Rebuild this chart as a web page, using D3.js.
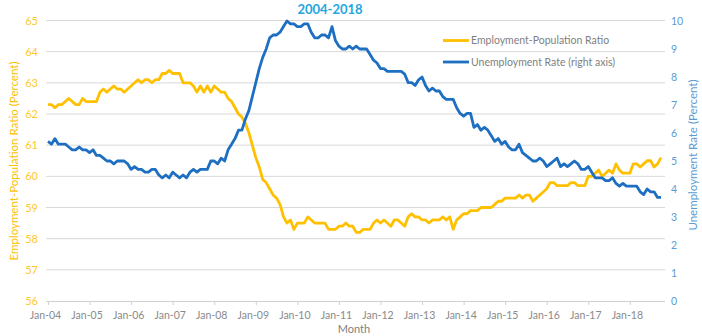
<!DOCTYPE html>
<html><head><meta charset="utf-8">
<script src="https://cdn.jsdelivr.net/npm/d3@7"></script>
<style>body{margin:0;background:#fff}svg{display:block}text{font-family:Lato,"Open Sans",sans-serif}</style>
</head><body><svg id="c" width="702" height="336"></svg>
<script>
const yearLabels = ["Jan-04","Jan-05","Jan-06","Jan-07","Jan-08","Jan-09","Jan-10","Jan-11","Jan-12","Jan-13","Jan-14","Jan-15","Jan-16","Jan-17","Jan-18"];
const empPopRatio = [
62.3,62.3,62.2,62.3,62.3,62.4,62.5,62.4,62.3,62.3,62.5,62.4,
62.4,62.4,62.4,62.7,62.8,62.7,62.8,62.9,62.8,62.8,62.7,62.8,
62.9,63.0,63.1,63.0,63.1,63.1,63.0,63.1,63.1,63.3,63.3,63.4,
63.3,63.3,63.3,63.0,63.0,63.0,62.9,62.7,62.9,62.7,62.9,62.7,
62.9,62.8,62.7,62.7,62.5,62.4,62.2,62.0,61.9,61.7,61.4,61.0,
60.6,60.3,59.9,59.8,59.6,59.4,59.3,59.1,58.7,58.5,58.6,58.3,
58.5,58.5,58.5,58.7,58.6,58.5,58.5,58.5,58.5,58.3,58.3,58.3,
58.4,58.4,58.5,58.4,58.4,58.2,58.2,58.3,58.3,58.3,58.5,58.6,
58.5,58.6,58.5,58.4,58.6,58.6,58.5,58.4,58.7,58.8,58.7,58.7,
58.6,58.6,58.5,58.6,58.6,58.6,58.7,58.6,58.7,58.3,58.6,58.7,
58.8,58.8,58.9,58.9,58.9,59.0,59.0,59.0,59.0,59.1,59.2,59.2,
59.3,59.3,59.3,59.3,59.4,59.3,59.4,59.4,59.2,59.3,59.4,59.5,
59.6,59.8,59.8,59.7,59.7,59.7,59.7,59.8,59.8,59.7,59.7,59.7,
60.0,60.0,60.1,60.2,60.0,60.1,60.2,60.1,60.4,60.2,60.1,60.1,
60.1,60.4,60.4,60.3,60.4,60.5,60.5,60.3,60.4,60.6];
const unempRate = [
5.7,5.6,5.8,5.6,5.6,5.6,5.5,5.4,5.4,5.5,5.4,5.4,
5.3,5.4,5.2,5.2,5.1,5.0,5.0,4.9,5.0,5.0,5.0,4.9,
4.7,4.8,4.7,4.7,4.6,4.6,4.7,4.7,4.5,4.4,4.5,4.4,
4.6,4.5,4.4,4.5,4.4,4.6,4.7,4.6,4.7,4.7,4.7,5.0,
5.0,4.9,5.1,5.0,5.4,5.6,5.8,6.1,6.1,6.5,6.8,7.3,
7.8,8.3,8.7,9.0,9.4,9.5,9.5,9.6,9.8,10.0,9.9,9.9,
9.8,9.8,9.9,9.9,9.6,9.4,9.4,9.5,9.5,9.4,9.8,9.3,
9.1,9.0,9.0,9.1,9.0,9.1,9.0,9.0,9.0,8.8,8.6,8.5,
8.3,8.3,8.2,8.2,8.2,8.2,8.2,8.1,7.8,7.8,7.7,7.9,
8.0,7.7,7.5,7.6,7.5,7.5,7.3,7.2,7.2,7.2,6.9,6.7,
6.6,6.7,6.7,6.2,6.3,6.1,6.2,6.1,5.9,5.7,5.8,5.6,
5.7,5.5,5.4,5.4,5.6,5.3,5.2,5.1,5.0,5.0,5.1,5.0,
4.8,4.9,5.0,5.1,4.8,4.9,4.8,4.9,5.0,4.9,4.7,4.7,
4.8,4.6,4.4,4.4,4.4,4.3,4.3,4.4,4.2,4.1,4.2,4.1,
4.1,4.1,4.1,3.9,3.8,4.0,3.9,3.9,3.7,3.7];
const leftTicks = [56,57,58,59,60,61,62,63,64,65];
const rightTicks = [0,1,2,3,4,5,6,7,8,9,10];
const seriesNames = ["Employment-Population Ratio","Unemployment Rate (right axis)"];
const titleText = "2004-2018";

const YEL = "#FFC000", BLU = "#1E6FC2";
const svg = d3.select("#c");
const x = d3.scaleLinear().domain([0, empPopRatio.length - 1]).range([48, 661]);
const yL = d3.scaleLinear().domain([56, 65]).range([301, 20.5]);
const yR = d3.scaleLinear().domain([0, 10]).range([301, 21]);

// gridlines
svg.append("g").selectAll("line").data(leftTicks.slice(1)).join("line")
  .attr("x1", 46).attr("x2", 665).attr("y1", d => yL(d)).attr("y2", d => yL(d))
  .attr("stroke", "#d9d9d9").attr("stroke-width", 1);

// x axis
const xa = svg.append("g").attr("transform", `translate(0,${yL(56)})`)
  .call(d3.axisBottom(x).tickValues(yearLabels.map((d, i) => i * 12)).tickFormat((d, i) => yearLabels[i]).tickSize(4).tickSizeOuter(0));
xa.select(".domain").attr("stroke", "#d0d0d0").attr("d", "M46,0.5H665");
xa.selectAll(".tick line").attr("stroke", "#d0d0d0");
xa.selectAll(".tick text").attr("fill", "#8a8a8a").attr("font-size", 10.5).attr("dy", "1em").attr("dx", -3);

// left axis
const la = svg.append("g").attr("transform", "translate(38,0)")
  .call(d3.axisLeft(yL).tickValues(leftTicks).tickSize(0).tickPadding(0));
la.select(".domain").remove();
la.selectAll("text").attr("fill", "#FFC82E").attr("font-size", 11);

// right axis
const ra = svg.append("g").attr("transform", "translate(671,0)")
  .call(d3.axisRight(yR).tickValues(rightTicks).tickSize(0).tickPadding(0));
ra.select(".domain").remove();
ra.selectAll("text").attr("fill", "#5B9BD5").attr("font-size", 10.5);

// lines
const lineL = d3.line().x((d, i) => x(i)).y(d => yL(d));
const lineR = d3.line().x((d, i) => x(i)).y(d => yR(d));
svg.append("path").datum(empPopRatio).attr("d", lineL).attr("fill", "none")
  .attr("stroke", YEL).attr("stroke-width", 2.8).attr("stroke-linejoin", "round");
svg.append("path").datum(unempRate).attr("d", lineR).attr("fill", "none")
  .attr("stroke", BLU).attr("stroke-width", 2.8).attr("stroke-linejoin", "round");

// title
svg.append("text").attr("x", 330).attr("y", 14).attr("text-anchor", "middle")
  .attr("font-size", 13).attr("font-weight", "bold").attr("fill", "#22A6DE").text(titleText);

// axis titles
svg.append("text").attr("transform", "translate(18,161) rotate(-90)").attr("text-anchor", "middle")
  .attr("font-size", 11.5).attr("fill", YEL).text("Employment-Population Ratio (Percent)");
svg.append("text").attr("transform", "translate(697,155) rotate(-90)").attr("text-anchor", "middle")
  .attr("font-size", 11.5).attr("fill", "#5B9BD5").text("Unemployment Rate (Percent)");
svg.append("text").attr("x", 354).attr("y", 333).attr("text-anchor", "middle")
  .attr("font-size", 11).attr("fill", "#7f7f7f").text("Month");

// legend
const lg = svg.append("g");
[YEL, BLU].forEach((c, i) => {
  const yy = 40.5 + i * 21.5;
  lg.append("line").attr("x1", 443).attr("x2", 469).attr("y1", yy).attr("y2", yy).attr("stroke", c).attr("stroke-width", 2.8);
  lg.append("text").attr("x", 471).attr("y", yy + 3.5).attr("font-size", 10.5).attr("fill", "#7f7f7f").text(seriesNames[i]);
});
</script></body></html>
